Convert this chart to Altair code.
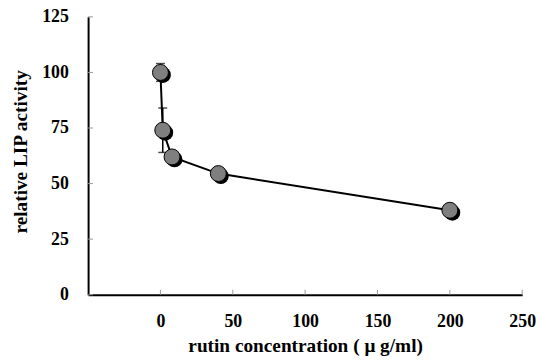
import altair as alt
import pandas as pd

# data
conc = [0, 1.6, 8, 40, 200]
activity = [100, 74, 62, 54.5, 38]
err = [4, 10, 2, 1.5, 1.5]
x_tick_values = [0, 50, 100, 150, 200, 250]
y_tick_values = [0, 25, 50, 75, 100, 125]

df = pd.DataFrame({
    "conc": conc,
    "act": activity,
    "lo": [a - e for a, e in zip(activity, err)],
    "hi": [a + e for a, e in zip(activity, err)],
    "order": list(range(len(conc))),
})
xt = pd.DataFrame({"t": x_tick_values})
yt = pd.DataFrame({"t": y_tick_values})

W, H = 439, 281
FONT = "Liberation Serif"
xs = alt.Scale(domain=[-50, 250], nice=False, zero=False)
ys = alt.Scale(domain=[0, 125], nice=False)

xaxis = alt.Axis(title="rutin concentration ( μ g/ml)", values=x_tick_values,
                 ticks=False, tickSize=0, labelPadding=18, titlePadding=6,
                 labelFlush=False)
yaxis = alt.Axis(title="relative LIP activity", values=y_tick_values,
                 ticks=False, tickSize=0, labelPadding=20, titlePadding=11,
                 titleY=136)

X = lambda f: alt.X(f, type="quantitative", scale=xs, axis=xaxis)
Y = lambda f: alt.Y(f, type="quantitative", scale=ys, axis=yaxis)

base = alt.Chart(df)

errbar = base.mark_rule(color="black", strokeWidth=1.5).encode(
    x=X("conc"), y=Y("lo"), y2="hi")
cap_lo = base.mark_tick(color="black", orient="horizontal", size=9, thickness=1.5).encode(
    x=X("conc"), y=Y("lo"))
cap_hi = base.mark_tick(color="black", orient="horizontal", size=9, thickness=1.5).encode(
    x=X("conc"), y=Y("hi"))
line = base.mark_line(color="black", strokeWidth=2).encode(
    x=X("conc"), y=Y("act"), order="order:Q")
shadow = base.mark_point(shape="circle", filled=True, color="black", size=260,
                         opacity=1, xOffset=2.5, yOffset=2.5).encode(
    x=X("conc"), y=Y("act"))
dots = base.mark_point(shape="circle", filled=True, fill="#7f7f7f", stroke="black",
                       strokeWidth=1, size=260, opacity=1).encode(
    x=X("conc"), y=Y("act"))

xticks = alt.Chart(xt).mark_rule(color="#999999", strokeWidth=1).encode(
    x=X("t"), y=alt.value(H), y2=alt.value(H - 5))
yticks = alt.Chart(yt).mark_rule(color="#999999", strokeWidth=1).encode(
    y=Y("t"), x=alt.value(0), x2=alt.value(5))

chart = alt.layer(xticks, yticks, errbar, cap_lo, cap_hi, line, shadow, dots).properties(
    width=W, height=H,
    autosize=alt.AutoSizeParams(type="none"),
    padding={"left": 81, "top": 7, "right": 16, "bottom": 60},
).configure_view(stroke=None).configure_axis(
    domainColor="black", domainWidth=2, grid=False,
    labelFont=FONT, labelFontWeight="bold", labelFontSize=18, labelColor="black",
    titleFont=FONT, titleFontWeight="bold", titleFontSize=19.5, titleColor="black",
)

chart.save("out.html", embed_options={"renderer": "svg", "actions": False})
